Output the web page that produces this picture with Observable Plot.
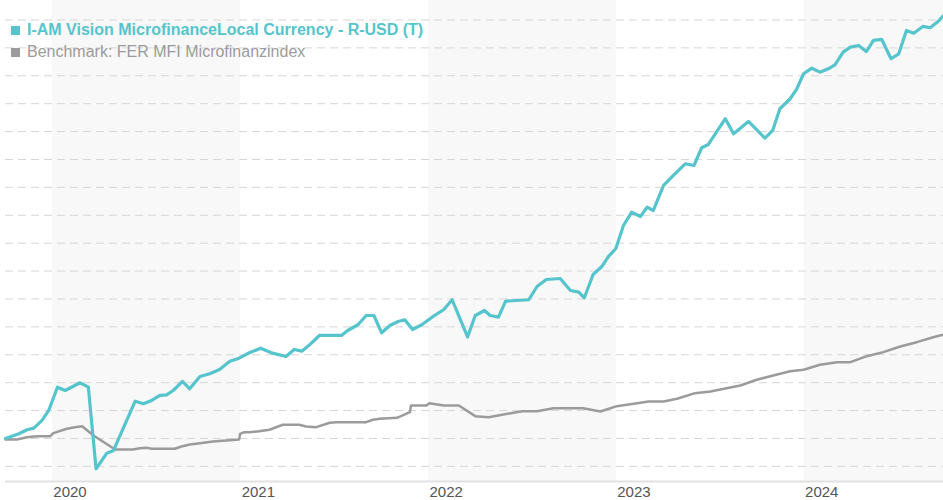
<!DOCTYPE html>
<html>
<head>
<meta charset="utf-8">
<script src="https://cdn.jsdelivr.net/npm/d3@7"></script>
<script src="https://cdn.jsdelivr.net/npm/@observablehq/plot@0.6"></script>
<style>
  html, body { margin: 0; padding: 0; background: #fff; }
  #wrap { position: relative; width: 943px; height: 500px; }
  #legend { position: absolute; left: 11px; top: 18.5px; font-family: "Liberation Sans", Arial, sans-serif; font-size: 16px; line-height: 22px; }
  #legend .sw { display: inline-block; width: 9px; height: 9px; margin-right: 7px; }
</style>
</head>
<body>
<div id="wrap">
  <div id="legend"></div>
</div>
<script>
// Series names
const fundName = "I-AM Vision MicrofinanceLocal Currency - R-USD (T)";
const benchName = "Benchmark: FER MFI Microfinanzindex";

// Fund (indexed, start = 100)
const fundDates = ["2019-10-02","2019-10-28","2019-11-13","2019-11-26","2019-12-12","2019-12-25",
  "2020-01-11","2020-01-26","2020-02-24","2020-03-11","2020-03-26","2020-04-16","2020-04-29","2020-06-10","2020-06-26","2020-07-12","2020-07-28","2020-08-10","2020-08-23","2020-09-10","2020-09-24","2020-10-14","2020-11-02","2020-11-21","2020-12-11","2020-12-29",
  "2021-01-18","2021-02-09","2021-03-04","2021-03-30","2021-04-15","2021-04-30","2021-05-15","2021-06-03","2021-07-16","2021-07-28","2021-08-17","2021-09-02","2021-09-17","2021-10-02","2021-10-18","2021-11-03","2021-11-16","2021-12-01","2021-12-19",
  "2022-01-08","2022-01-31","2022-02-16","2022-03-18","2022-04-02","2022-04-20","2022-05-01","2022-05-17","2022-05-31","2022-07-15","2022-07-31","2022-08-18","2022-09-14","2022-10-04","2022-10-20","2022-10-31","2022-11-17","2022-12-04","2022-12-17","2022-12-31",
  "2023-01-15","2023-01-31","2023-02-17","2023-03-02","2023-03-14","2023-04-03","2023-04-22","2023-05-15","2023-06-01","2023-06-16","2023-06-29","2023-08-01","2023-08-17","2023-09-15","2023-10-17","2023-11-01","2023-11-15","2023-12-05","2023-12-18","2023-12-31",
  "2024-01-16","2024-02-01","2024-02-17","2024-03-01","2024-03-17","2024-03-31","2024-04-16","2024-05-01","2024-05-15","2024-05-31","2024-06-18","2024-07-03","2024-07-18","2024-08-01","2024-08-19","2024-09-02","2024-09-18","2024-09-27"];
const fundValues = [100.0,100.84,101.56,101.85,103.23,105.02,
  109.19,108.6,109.98,109.19,94.57,97.37,97.85,106.68,106.22,106.81,107.71,107.83,108.6,110.22,108.91,111.11,111.6,112.37,113.85,114.39,
  115.36,116.18,115.29,114.7,115.95,115.65,116.79,118.46,118.46,119.35,120.38,122.04,122.04,118.94,120.25,120.97,121.27,119.53,120.38,
  121.74,123.12,124.86,118.19,122.04,122.94,122.04,121.74,124.61,124.86,127.24,128.49,128.67,126.52,126.22,125.22,129.39,130.82,132.62,134.0,
  138.17,140.56,139.78,141.45,140.86,145.34,147.13,149.23,148.92,152.1,152.69,157.3,154.61,156.81,153.82,155.2,159.09,160.88,162.67,165.36,
  166.36,165.65,166.25,166.97,169.23,170.13,170.43,169.35,171.33,171.51,168.05,168.94,173.12,172.63,173.84,173.6,174.78,175.72];

// Benchmark (indexed)
const benchDates = ["2019-10-02","2019-10-24","2019-11-13","2019-11-26","2019-12-05","2019-12-28",
  "2020-01-03","2020-01-29","2020-02-14","2020-02-28","2020-03-21","2020-05-02","2020-06-06","2020-06-19","2020-07-02","2020-07-12","2020-08-26","2020-09-08","2020-09-24","2020-10-14","2020-11-08","2020-12-04","2020-12-29","2020-12-31",
  "2021-01-08","2021-01-18","2021-02-06","2021-02-26","2021-03-24","2021-04-25","2021-05-08","2021-05-28","2021-06-23","2021-07-06","2021-09-02","2021-09-15","2021-09-28","2021-11-01","2021-11-26","2021-11-28","2021-12-15","2021-12-28",
  "2022-01-03","2022-01-31","2022-03-01","2022-04-02","2022-04-28","2022-05-27","2022-07-02","2022-07-31","2022-09-01","2022-10-29","2022-12-01",
  "2023-01-02","2023-02-04","2023-03-05","2023-04-03","2023-04-29","2023-06-03","2023-07-03","2023-08-30","2023-10-01","2023-11-02","2023-12-05","2023-12-31",
  "2024-02-01","2024-03-05","2024-03-31","2024-05-02","2024-06-03","2024-07-06","2024-08-07","2024-09-08","2024-09-27"];
const benchValues = [99.82,99.82,100.23,100.36,100.41,100.41,
  100.95,101.74,102.03,102.2,100.54,98.03,98.03,98.26,98.33,98.15,98.15,98.57,98.92,99.16,99.46,99.64,99.82,100.84,
  101.13,101.13,101.31,101.56,102.46,102.46,102.15,102.03,102.81,102.92,102.92,103.35,103.53,103.71,104.71,105.91,105.91,105.91,
  106.33,105.91,105.91,104.0,103.82,104.3,104.89,104.89,105.43,105.43,104.84,
  105.79,106.22,106.63,106.63,107.11,108.12,108.42,109.5,110.52,111.29,112.06,112.31,
  113.21,113.67,113.67,114.75,115.47,116.49,117.26,118.15,118.58];

// Axis ticks / bands / grid
const yearTicks = ["2020","2021","2022","2023","2024"];
const shadedYears = ["2020","2022","2024"];
const gridValues = [95,100,105,110,115,120,125,130,135,140,145,150,155,160,165,170,175];
const xDomain = ["2019-10-02","2024-09-28"];
const yDomain = [92.29, 178.49];

const fundColor = "#56c4cc";
const benchColor = "#9b9b9b";

const parse = d3.utcParse("%Y-%m-%d");
const fund = fundDates.map((d, i) => ({date: parse(d), value: fundValues[i]}));
const bench = benchDates.map((d, i) => ({date: parse(d), value: benchValues[i]}));
const bands = shadedYears.map(y => ({x1: new Date(Date.UTC(+y, 0, 1)), x2: new Date(Date.UTC(+y + 1, 0, 1))}));
const ticks = yearTicks.map(y => new Date(Date.UTC(+y, 0, 1)));

const chart = Plot.plot({
  width: 943,
  height: 500,
  marginLeft: 5,
  marginRight: 0,
  marginTop: 0,
  marginBottom: 19,
  style: {fontFamily: "'Liberation Sans', Arial, sans-serif", background: "transparent", overflow: "visible"},
  x: {type: "utc", domain: xDomain.map(parse), axis: null},
  y: {domain: yDomain, axis: null},
  marks: [
    Plot.rect(bands, {x1: "x1", x2: "x2", fill: "#f8f8f8", clip: true}),
    Plot.ruleY(gridValues, {stroke: "#d6d6d6", strokeWidth: 1, strokeDasharray: "8,5"}),
    Plot.ruleY([yDomain[0]], {stroke: "#e2e2e2", strokeWidth: 2}),
    Plot.line(bench, {x: "date", y: "value", stroke: benchColor, strokeWidth: 2.5}),
    Plot.line(fund, {x: "date", y: "value", stroke: fundColor, strokeWidth: 3.2}),
    Plot.text(ticks, {x: d => d, frameAnchor: "bottom", dy: 15, lineAnchor: "bottom", textAnchor: "start", dx: 1,
      text: (d, i) => yearTicks[i], fill: "#555", fontSize: 15})
  ]
});
document.getElementById("wrap").prepend(chart);

const legend = document.getElementById("legend");
[[fundName, fundColor, "bold"], [benchName, benchColor, "normal"]].forEach(([name, color, weight]) => {
  const row = document.createElement("div");
  row.style.color = color;
  row.style.fontWeight = weight;
  const sw = document.createElement("span");
  sw.className = "sw";
  sw.style.background = color;
  row.appendChild(sw);
  row.appendChild(document.createTextNode(name));
  legend.appendChild(row);
});
</script>
</body>
</html>
